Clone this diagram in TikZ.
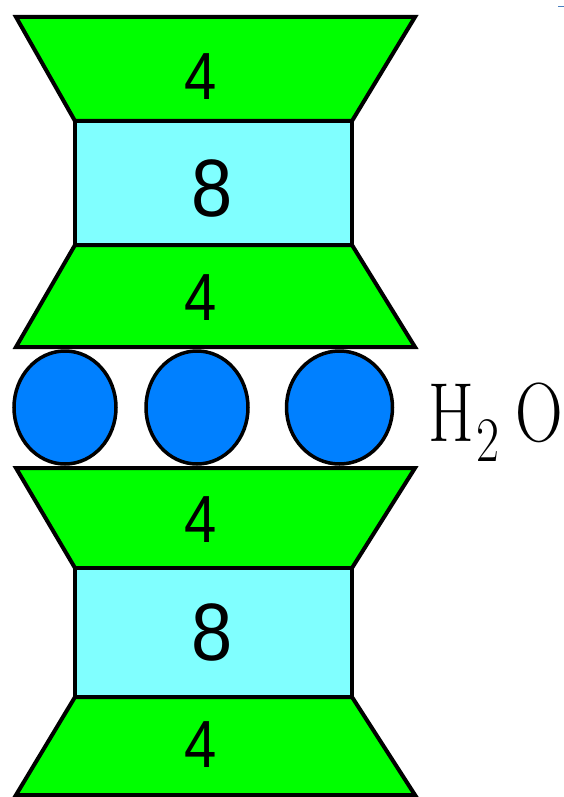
\documentclass[tikz,border=0pt]{standalone}
\usepackage{fontspec}
\newfontfamily\digitfont{Liberation Sans}
\definecolor{layergreen}{RGB}{0,255,0}
\definecolor{layercyan}{RGB}{128,255,255}
\definecolor{waterblue}{RGB}{0,128,255}
\definecolor{tickblue}{RGB}{74,126,191}
\begin{document}
\begin{tikzpicture}[x=1pt,y=-1pt,
  edge/.style={draw=black,line width=4pt,line join=miter},
  trap/.style={edge,fill=layergreen},
  octa/.style={edge,fill=layercyan},
  water/.style={draw=black,line width=3.5pt,fill=waterblue},
  four/.style={inner sep=0pt,font=\digitfont\fontsize{58}{58}\selectfont,yscale=1.15},
  eight/.style={inner sep=0pt,font=\digitfont\fontsize{74}{74}\selectfont,yscale=1.1}]
\useasboundingbox (0,0) rectangle (564,797);
% upper block
\path[trap] (16,17) -- (415,17) -- (352,121) -- (75,121) -- cycle;
\path[octa] (75,121) rectangle (352,245);
\path[trap] (75,245) -- (352,245) -- (415,347) -- (16,347) -- cycle;
% lower block
\path[trap] (16,468) -- (415,468) -- (352,568) -- (75,568) -- cycle;
\path[octa] (75,568) rectangle (352,697);
\path[trap] (75,697) -- (352,697) -- (415,795) -- (16,795) -- cycle;
% water molecules
\path[water] (65,407.5) ellipse [x radius=51,y radius=56.5];
\path[water] (197,407.5) ellipse [x radius=51,y radius=56.5];
\path[water] (339.5,407.5) ellipse [x radius=53,y radius=56.5];
% labels
\node[four] (t1) at (201,77) {4};
\node[eight] (o1) at (212,188) {8};
\node[four] (t2) at (201,298) {4};
\node[four] (t3) at (201,520) {4};
\node[eight] (o2) at (212,632) {8};
\node[four] (t4) at (201,745) {4};
\node[anchor=base west,inner sep=0pt,yscale=1.27,font=\fontsize{66}{66}\selectfont] (h2o) at (428,441)
  {H\hspace{3pt}\raisebox{-16pt}{\fontsize{50}{50}\selectfont 2}\hspace{16pt}O};
% small mark top right
\draw[tickblue,line width=1.5pt] (558,6.5) -- (564,6.5);
\end{tikzpicture}
\end{document}
